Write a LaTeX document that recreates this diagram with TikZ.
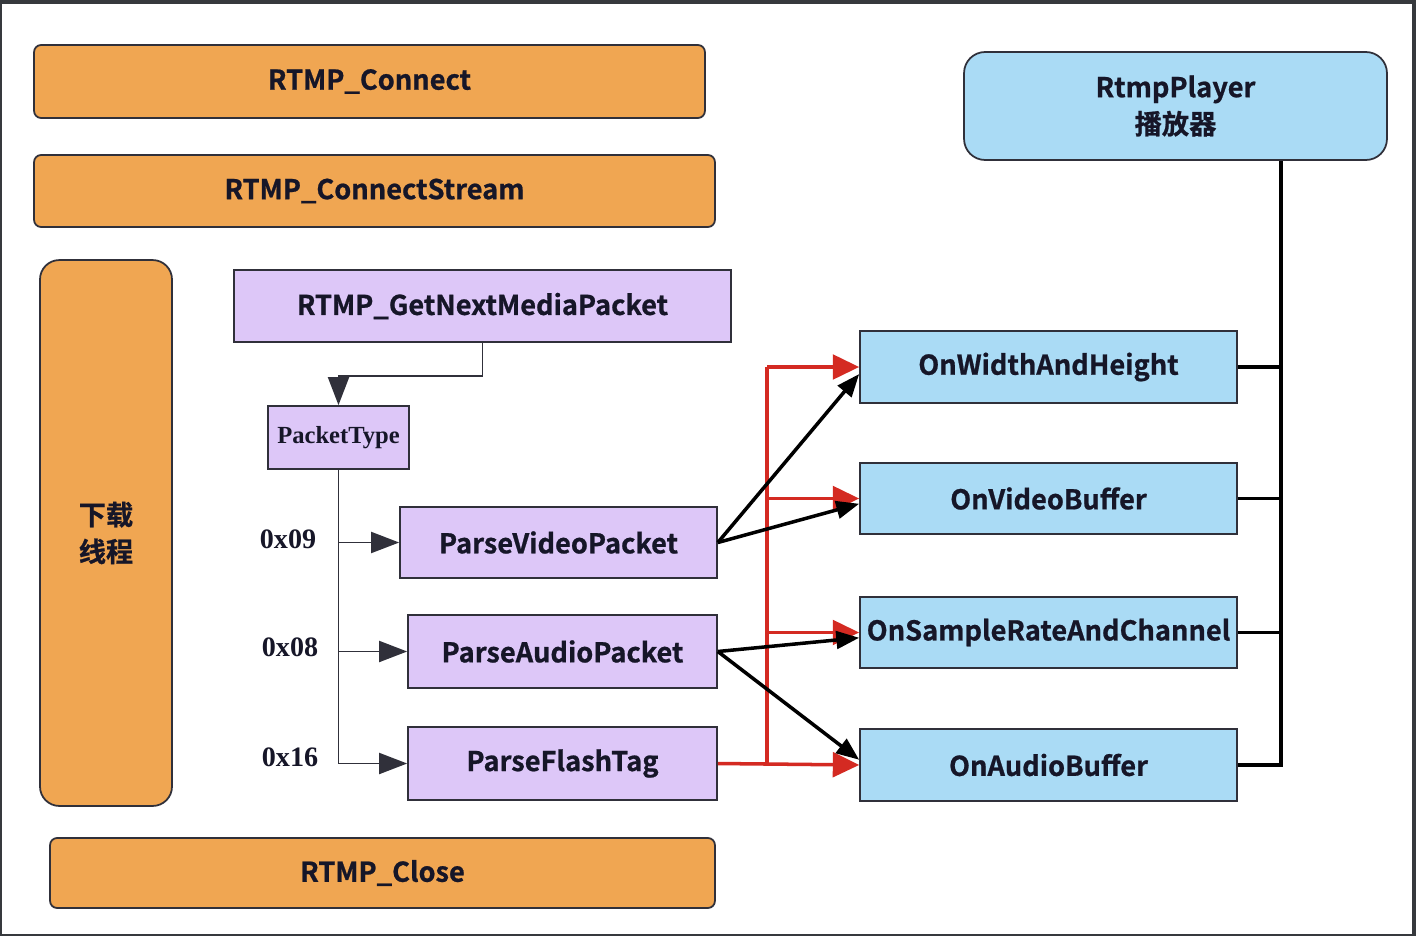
\documentclass[tikz,border=0pt]{standalone}
\usepackage{fontspec}
\usetikzlibrary{arrows.meta}
\newfontfamily\cjkb{Noto Sans CJK SC Bold}[FakeBold=0.8]
\newfontfamily\serb{Liberation Serif}[BoldFont=* Bold]
\definecolor{og}{RGB}{240,166,82}
\definecolor{pp}{RGB}{221,199,248}
\definecolor{sb}{RGB}{170,219,245}
\definecolor{rd}{RGB}{212,42,34}
\definecolor{bd}{RGB}{48,48,58}
\definecolor{tx}{RGB}{22,22,40}
\definecolor{fr}{RGB}{54,57,61}

\tikzset{
    box/.style={draw=bd, line width=1pt, inner sep=0pt, text=tx,
        font=\cjkb\fontsize{15.5}{21}\selectfont, align=center},
    obox/.style={box, fill=og, rounded corners=4pt},
    pbox/.style={box, fill=pp},
    bbox/.style={box, fill=sb},
    hexlbl/.style={font=\serb\bfseries\fontsize{16}{18}\selectfont, text=tx},
    tree/.style={line width=1.1pt, draw=bd, -{Triangle[length=16pt,width=12pt]}},
    rl/.style={line width=2pt, draw=rd, -{Triangle[length=15pt,width=14pt,fill=rd]}},
    bk/.style={line width=2pt, draw=black, -{Triangle[length=13pt,width=10pt]}},
    bus/.style={line width=2pt, draw=black}
}

\begin{document}
\begin{tikzpicture}[x=0.02cm, y=-0.02cm]

% ── frame ──
\fill[fr] (0,0) rectangle (1416,936);
\fill[white] (2,4) rectangle (1412,934);

% ════════════════════════════════════════════════
%  LEFT COLUMN — connection and download thread
% ════════════════════════════════════════════════
\node[obox, minimum width=13.42cm, minimum height=1.46cm] (conn) at (369.5,81.5) {RTMP\_Connect};
\node[obox, minimum width=13.62cm, minimum height=1.44cm] (cstr) at (374.5,191) {RTMP\_ConnectStream};
\node[obox, rounded corners=11pt, minimum width=2.64cm, minimum height=10.92cm] (dl) at (106,533) {下载\\线程};
\node[obox, minimum width=13.3cm, minimum height=1.4cm] (close) at (382.5,873) {RTMP\_Close};

% packet reading
\node[pbox, minimum width=9.94cm, minimum height=1.44cm] (gnmp) at (482.5,306) {RTMP\_GetNextMediaPacket};
\node[pbox, font=\serb\bfseries\fontsize{14}{16}\selectfont, minimum width=2.82cm, minimum height=1.26cm] (ptype) at (338.5,437.5) {PacketType};
\node[pbox, minimum width=6.34cm, minimum height=1.42cm] (pvid) at (558.5,542.5) {ParseVideoPacket};
\node[pbox, minimum width=6.18cm, minimum height=1.46cm] (paud) at (562.5,651.5) {ParseAudioPacket};
\node[pbox, minimum width=6.18cm, minimum height=1.46cm] (pflv) at (562.5,763.5) {ParseFlashTag};

% type codes
\node[hexlbl] (h09) at (288,539) {0x09};
\node[hexlbl] (h08) at (290,647) {0x08};
\node[hexlbl] (h16) at (290,757) {0x16};

% ════════════════════════════════════════════════
%  RIGHT COLUMN — player callbacks
% ════════════════════════════════════════════════
\node[bbox, rounded corners=12pt, minimum width=8.46cm, minimum height=2.16cm] (player) at (1175.5,106) {RtmpPlayer\\播放器};
\node[bbox, minimum width=7.54cm, minimum height=1.44cm] (owh) at (1048.5,367) {OnWidthAndHeight};
\node[bbox, minimum width=7.54cm, minimum height=1.42cm] (ovb) at (1048.5,498.5) {OnVideoBuffer};
\node[bbox, minimum width=7.54cm, minimum height=1.42cm] (osr) at (1048.5,632.5) {OnSampleRateAndChannel};
\node[bbox, minimum width=7.54cm, minimum height=1.44cm] (oab) at (1048.5,765) {OnAudioBuffer};

% ── packet dispatch ──
\draw[tree] (gnmp.south) -- ++(0,33) -| (ptype.north);
\foreach \n in {pvid,paud,pflv}
    \draw[tree] (ptype.south) |- (\n.west);

% ── flash tag feeds every callback (red) ──
\coordinate (rx) at (767,0);
\draw[rl] (pflv.east) -- (oab.west);
\draw[rl,-] (rx |- pflv.east) -- (rx |- owh.west);
\foreach \n in {owh,ovb,osr}
    \draw[rl] (rx |- \n.west) -- (\n.west);

% ── video / audio parsers ──
\draw[bk] (pvid.east) -- ([yshift=-4pt]owh.west);
\draw[bk] (pvid.east) -- ([yshift=-3pt]ovb.west);
\draw[bk] (paud.east) -- ([yshift=-3pt]osr.west);
\draw[bk] (paud.east) -- ([yshift=3pt]oab.west);

% ── callbacks back to the player ──
\coordinate (bx) at (1281,0);
\draw[bus] (player.south -| bx) -- (bx |- oab.east) -- (oab.east);
\foreach \n in {owh,ovb,osr}
    \draw[bus] (\n.east) -- (bx |- \n.east);

\end{tikzpicture}
\end{document}
